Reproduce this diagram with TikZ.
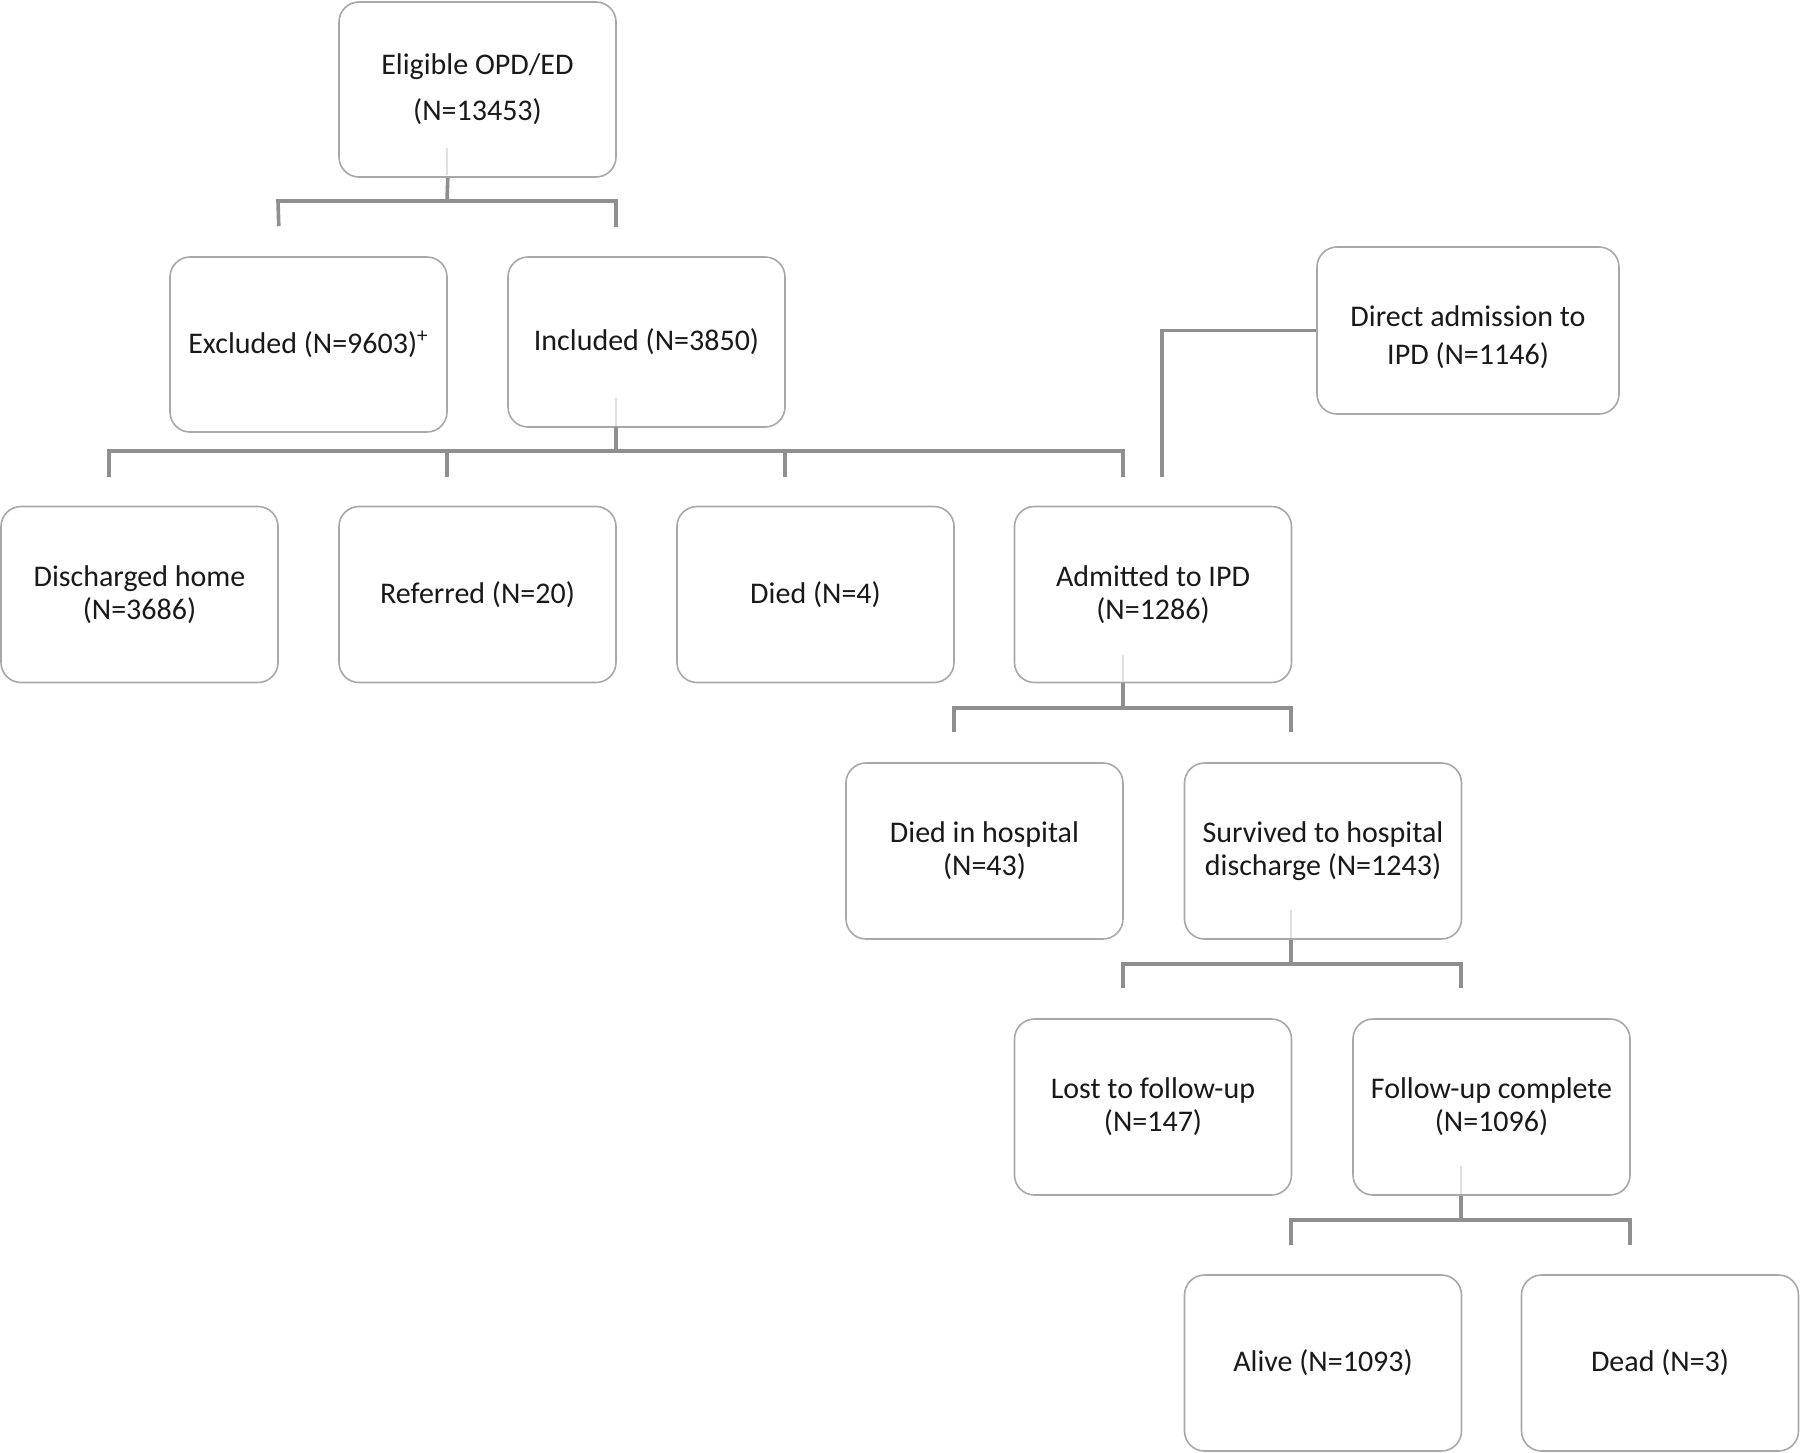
\documentclass[tikz,border=0pt]{standalone}
\usepackage{fontspec}
\setmainfont{Carlito}
\begin{document}
\begin{tikzpicture}[x=0.5pt,y=-0.5pt,
  box/.style={draw=boxgray,line width=0.8pt,rounded corners=10pt,fill=white,
    minimum width=138.5pt,minimum height=88pt,align=center,inner sep=0pt,
    text=black!90,font=\fontsize{15}{16.5}\selectfont},
  conn/.style={draw=conngray,line width=1.8pt},
  faint/.style={draw=black!12,line width=0.8pt}]
\definecolor{boxgray}{HTML}{A8A8A8}
\definecolor{conngray}{HTML}{8F8F8F}
\useasboundingbox (0,0) rectangle (1800,1452);
% boxes
\node[box,minimum height=87.5pt,font=\fontsize{15}{23}\selectfont] (elig) at (477.5,89.5) {Eligible OPD/ED\\(N=13453)};
\node[box,minimum height=87.5pt] (excl) at (308.5,344.5) {Excluded (N=9603)\textsuperscript{+}};
\node[box,minimum height=85pt] (incl) at (646.5,342) {Included (N=3850)};
\node[box,minimum width=151pt,minimum height=83.5pt,font=\fontsize{15}{19}\selectfont] (direct) at (1468,330.5) {\rule{0pt}{17pt}Direct admission to\\IPD (N=1146)};
\node[box] (disch) at (139.5,594.5) {Discharged home\\(N=3686)};
\node[box] (ref) at (477.5,594.5) {Referred (N=20)};
\node[box] (died) at (815.5,594.5) {Died (N=4)};
\node[box] (adm) at (1153,594.5) {Admitted to IPD\\(N=1286)};
\node[box] (dih) at (984.5,851) {Died in hospital\\(N=43)};
\node[box] (surv) at (1323,851) {Survived to hospital\\discharge (N=1243)};
\node[box] (lost) at (1153,1107) {Lost to follow-up\\(N=147)};
\node[box] (fu) at (1491.5,1107) {Follow-up complete\\(N=1096)};
\node[box] (alive) at (1323,1363) {Alive (N=1093)};
\node[box] (dead) at (1660,1363) {Dead (N=3)};
% faint traces inside boxes
\draw[faint] (447,148) -- (447,175);
\draw[faint] (616,398) -- (616,426);
\draw[faint] (1123,655) -- (1123,682);
\draw[faint] (1291,910) -- (1291,938);
\draw[faint] (1461,1166) -- (1461,1194);
% level 1
\draw[conn] (excl.east |- elig.south) -- (447,201);
\draw[conn] (disch.east |- excl.north) ++(0,-30) -- (278,201) -- (616,201) -- (616,227);
% level 2
\draw[conn] (616,427) -- (616,451);
\draw[conn] (disch.north -| 109,0) ++(0,-29) -- (109,451) -- (1123,451) -- (1123,477);
\draw[conn] (447,451) -- (447,477);
\draw[conn] (785,451) -- (785,477);
\draw[conn] (direct.west) -- (1162,330.5) -- (1162,477);
% level 3
\draw[conn] (adm.south -| 1123,0) -- (1123,708);
\draw[conn] (954,732) -- (954,708) -- (1291,708) -- (1291,732);
% level 4
\draw[conn] (surv.south -| 1291,0) -- (1291,964);
\draw[conn] (1123,988) -- (1123,964) -- (1461,964) -- (1461,988);
% level 5
\draw[conn] (fu.south -| 1461,0) -- (1461,1220);
\draw[conn] (1291,1245) -- (1291,1220) -- (1630,1220) -- (1630,1245);
\end{tikzpicture}
\end{document}
